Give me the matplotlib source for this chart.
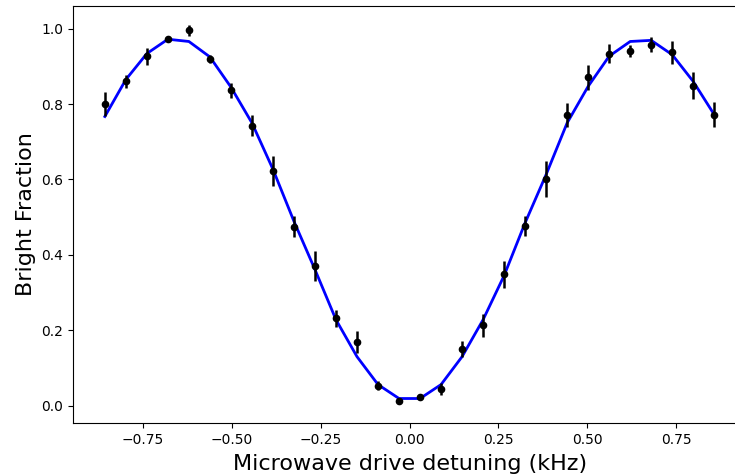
import numpy as np
import matplotlib
matplotlib.use('Agg')
import matplotlib.pyplot as plt

# 失谐扫描：30个点，-0.857 kHz 到 0.857 kHz
detuning = np.linspace(-0.857, 0.857, 30)

# 测量的亮态比例
bright = [0.800, 0.860, 0.927, 0.973, 0.996, 0.920, 0.836, 0.743, 0.623, 0.475,
          0.370, 0.232, 0.170, 0.053, 0.013, 0.024, 0.045, 0.150, 0.213, 0.349,
          0.477, 0.601, 0.771, 0.871, 0.934, 0.941, 0.958, 0.937, 0.849, 0.772]

# 误差
bright_err = [0.032, 0.017, 0.023, 0.008, 0.015, 0.010, 0.020, 0.027, 0.039, 0.028,
              0.039, 0.023, 0.029, 0.012, 0.004, 0.005, 0.016, 0.022, 0.030, 0.036,
              0.027, 0.047, 0.032, 0.033, 0.025, 0.016, 0.019, 0.030, 0.036, 0.033]

# 拟合曲线（在同样的失谐点上计算）
fit = [0.767, 0.865, 0.934, 0.972, 0.966, 0.925, 0.845, 0.750, 0.627, 0.489,
       0.361, 0.228, 0.130, 0.056, 0.019, 0.019, 0.056, 0.130, 0.228, 0.345,
       0.485, 0.613, 0.750, 0.847, 0.927, 0.966, 0.969, 0.931, 0.860, 0.772]

fig = plt.figure(figsize=(7.35, 4.76), dpi=100)
# 右边框超出画布
ax = fig.add_axes([0.0993, 0.1113, 0.93, 0.876])

ax.plot(detuning, fit, color='blue', linewidth=2, zorder=1)
ax.errorbar(detuning, bright, yerr=bright_err, fmt='o', color='black',
            markersize=4.5, elinewidth=1.8, capsize=0, zorder=2)

ax.set_xlim(-0.9466, 0.976)
ax.set_ylim(-0.046, 1.06)
ax.set_xticks([-0.75, -0.5, -0.25, 0.0, 0.25, 0.5, 0.75])
ax.set_xlabel('Microwave drive detuning (kHz)', fontsize=16)
ax.xaxis.set_label_coords(0.493, -0.075)
ax.set_ylabel('Bright Fraction', fontsize=16)

plt.savefig('out.png', dpi=100)
